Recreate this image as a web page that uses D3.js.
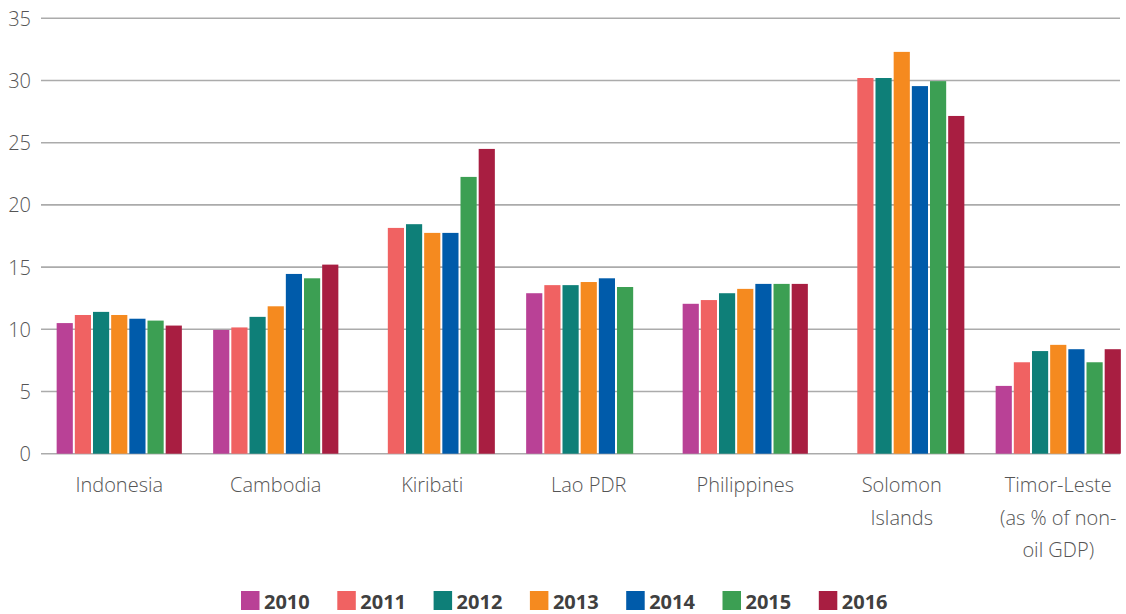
<!DOCTYPE html>
<html>
<head>
<meta charset="utf-8">
<script src="https://cdn.jsdelivr.net/npm/d3@7"></script>
<style>
  html, body { margin: 0; padding: 0; background: #fff; }
  svg { display: block; }
</style>
</head>
<body>
<svg id="chart" width="1126" height="614"></svg>
<script>
// ---- Data ----
const categories = ["Indonesia", "Cambodia", "Kiribati", "Lao PDR", "Philippines", "Solomon Islands", "Timor-Leste"];
const categoryLabelLines = [
  ["Indonesia"],
  ["Cambodia"],
  ["Kiribati"],
  ["Lao PDR"],
  ["Philippines"],
  ["Solomon", "Islands"],
  ["Timor-Leste", "(as % of non-", "oil GDP)"]
];
const years = ["2010", "2011", "2012", "2013", "2014", "2015", "2016"];
const colors = ["#B94196", "#F06262", "#0E7F78", "#F58A1F", "#005BAA", "#3C9F53", "#A81E41"];

// values per year, in category order (null = no data)
const v2010 = [10.5, 9.95, null, 12.9, 12.05, null, 5.45];
const v2011 = [11.15, 10.15, 18.15, 13.55, 12.35, 30.2, 7.35];
const v2012 = [11.4, 11.0, 18.45, 13.55, 12.9, 30.2, 8.25];
const v2013 = [11.15, 11.85, 17.75, 13.8, 13.25, 32.3, 8.75];
const v2014 = [10.85, 14.45, 17.75, 14.1, 13.65, 29.55, 8.4];
const v2015 = [10.7, 14.1, 22.25, 13.4, 13.65, 29.95, 7.35];
const v2016 = [10.3, 15.2, 24.5, null, 13.65, 27.15, 8.4];
const seriesValues = [v2010, v2011, v2012, v2013, v2014, v2015, v2016];

const yTicks = [0, 5, 10, 15, 20, 25, 30, 35];

// ---- Layout ----
const svg = d3.select("#chart");
const plotLeft = 41, plotRight = 1120;
const y0px = 453.7, yTopPx = 18.3;
const step = 156.5;

const y = d3.scaleLinear().domain([0, 35]).range([y0px, yTopPx]);
const x0 = d3.scaleBand().domain(categories)
  .range([plotLeft, plotLeft + step * categories.length])
  .paddingInner(0.2).paddingOuter(0.1);
const x1 = d3.scaleBand().domain(years).range([0, x0.bandwidth()]).paddingInner(0.11).paddingOuter(0);

// gridlines
svg.append("g").selectAll("line").data(yTicks).join("line")
  .attr("x1", plotLeft).attr("x2", plotRight)
  .attr("y1", d => y(d)).attr("y2", d => y(d))
  .attr("stroke", "#ababab").attr("stroke-width", 1.6);

// y tick labels
const yAxis = d3.axisLeft(y).tickValues(yTicks).tickSize(0).tickPadding(0);
const ya = svg.append("g").attr("transform", `translate(31,0)`).call(yAxis);
ya.select(".domain").remove();
ya.selectAll("text")
  .attr("font-family", "'Open Sans', 'Noto Sans', sans-serif")
  .attr("font-weight", 300)
  .attr("font-size", 20)
  .attr("fill", "#555")
  .attr("dy", "0.35em");

// bars
const flat = [];
categories.forEach((c, ci) => {
  years.forEach((yr, yi) => {
    const v = seriesValues[yi][ci];
    if (v != null) flat.push({ cat: c, year: yr, yi, value: v });
  });
});
svg.append("g").selectAll("rect").data(flat).join("rect")
  .attr("x", d => x0(d.cat) + x1(d.year))
  .attr("width", x1.bandwidth())
  .attr("y", d => y(d.value))
  .attr("height", d => y(0) - y(d.value))
  .attr("fill", d => colors[d.yi]);

// category labels
const catG = svg.append("g");
categories.forEach((c, ci) => {
  const cx = x0(c) + x0.bandwidth() / 2;
  const t = catG.append("text")
    .attr("x", cx)
    .attr("text-anchor", "middle")
    .attr("font-family", "'Open Sans', 'Noto Sans', sans-serif")
    .attr("font-weight", 300)
    .attr("font-size", 20)
    .attr("fill", "#555");
  categoryLabelLines[ci].forEach((line, li) => {
    t.append("tspan").attr("x", cx).attr("y", 492 + li * 32.5).text(line);
  });
});

// legend
const legendX0 = 241, legendStep = 96.3;
const lg = svg.append("g");
years.forEach((yr, i) => {
  const gx = legendX0 + i * legendStep;
  lg.append("rect").attr("x", gx).attr("y", 591).attr("width", 18.5).attr("height", 19)
    .attr("fill", colors[i]);
  lg.append("text").attr("x", gx + 23).attr("y", 609)
    .attr("font-family", "'Open Sans', 'Noto Sans', sans-serif")
    .attr("font-weight", 700)
    .attr("font-size", 20)
    .attr("fill", "#404040")
    .text(yr);
});
</script>
</body>
</html>
